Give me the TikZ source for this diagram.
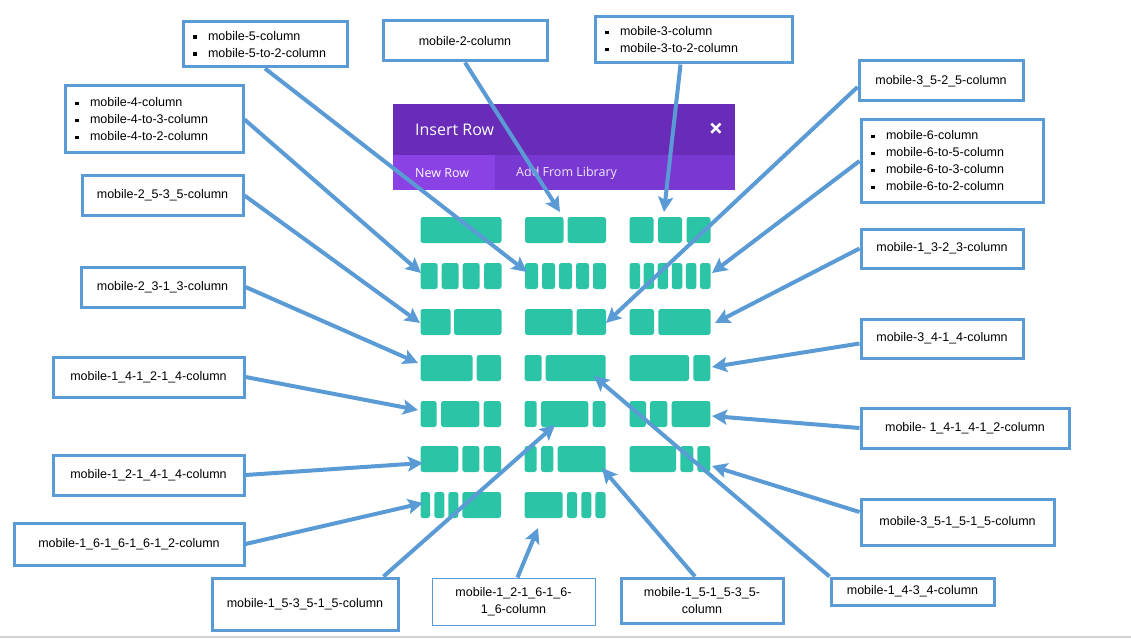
\documentclass[tikz,border=0pt]{standalone}
\usepackage{fontspec}
\setmainfont{Liberation Sans}
\newfontfamily\uifont{Open Sans}
\usetikzlibrary{arrows.meta,calc,positioning}
\definecolor{callout}{RGB}{91,155,213}
\definecolor{tile}{RGB}{43,196,167}
\definecolor{headpurple}{RGB}{104,44,184}
\definecolor{tabpurple}{RGB}{122,56,210}
\definecolor{tabactive}{RGB}{138,66,228}
\newcommand{\sqb}{\makebox[15pt][l]{\rule[1.8pt]{3.5pt}{3.5pt}}}
\tikzset{label box/.style={rectangle,draw=callout,line width=3pt,fill=white,inner sep=0pt,align=center,
                           font=\fontsize{12.5}{17}\selectfont},
         list box/.style={label box,align=left,inner xsep=10pt},
         thin box/.style={label box,line width=1pt},
         pointer/.style={->,draw=callout,line width=4pt},
         brick/.style={fill=tile,rounded corners=2.5pt},
         ui text/.style={inner sep=0pt,text=white,font=\uifont\fontsize{12.5}{15}\selectfont},
}

\begin{document}
\begin{tikzpicture}[x=1pt,y=-1pt,>={Stealth[length=15pt,width=15pt,inset=3pt]}]
\useasboundingbox (0,0) rectangle (1131,639);
% panel
\fill[headpurple] (393,104) rectangle (735,155);
\fill[tabpurple] (393,155) rectangle (735,190);
\fill[tabactive] (393,155) rectangle (495,190);
\node[ui text,anchor=west,font=\uifont\fontsize{16}{18}\selectfont] (title) at (415,130) {Insert Row};
\node[ui text,font=\uifont\bfseries\fontsize{25}{25}\selectfont] (close) at (716,130) {×};
\node[ui text,anchor=west] (newrow) at (415,173) {New Row};
\node[ui text,anchor=west,text=white!88!tabpurple] (library) at (516,173) {Add From Library};
% layouts, row by row
\foreach \a/\b in {420.5/501.5, 525/563.5, 567.5/606, 629.5/653.5, 658/682, 686.5/710.5}
    \fill[brick] (\a,217) rectangle (\b,243);
\foreach \a/\b in {420.5/437.7, 441.7/458.7, 462.7/479.7, 484/501.5,
                   525/538, 542/555, 559/572, 576/589, 593/606,
                   629.5/640, 643.6/654.1, 657.7/668.2, 671.8/682.3, 685.9/696.4, 700/710.5}
    \fill[brick] (\a,263) rectangle (\b,289);
\foreach \a/\b in {420.5/450.7, 454/501.5, 525/572.7, 576.7/606, 629.5/654, 658.3/710.5}
    \fill[brick] (\a,309) rectangle (\b,335);
\foreach \a/\b in {420.5/472.7, 476.7/501, 524.5/541.7, 545.7/605.7, 629.5/689, 693.3/710.3}
    \fill[brick] (\a,355) rectangle (\b,381);
\foreach \a/\b in {420.5/436.7, 441/479.3, 483.7/501, 524.5/536.7, 541/588.3, 592.7/605.5,
                   629.5/646, 650/667.3, 671.7/710.3}
    \fill[brick] (\a,401) rectangle (\b,427);
\foreach \a/\b in {420.5/458.3, 462.3/479.3, 483.7/501, 524.5/536.7, 541/553.3, 557.7/605.7,
                   629.5/676, 680.3/693.3, 697.3/710.3}
    \fill[brick] (\a,446) rectangle (\b,472);
\foreach \a/\b in {420.5/430, 434.3/444.3, 448.3/458.3, 462.3/501,
                   524.5/562.7, 567/577, 581.3/591.3, 595.3/605.5}
    \fill[brick] (\a,492) rectangle (\b,518);
% class names
\node[list box,text width=144pt,minimum height=45pt] (m5) at (265,44.5)
    {\sqb mobile-5-column\\ \sqb mobile-5-to-2-column};
\node[label box,minimum width=164pt,minimum height=40pt] (m2) at (465,41) {mobile-2-column};
\node[list box,text width=177pt,minimum height=46pt] (m3) at (693.5,40)
    {\sqb mobile-3-column\\ \sqb mobile-3-to-2-column};
\node[list box,text width=158pt,minimum height=67pt] (m4) at (154,119.5)
    {\sqb mobile-4-column\\ \sqb mobile-4-to-3-column\\ \sqb mobile-4-to-2-column};
\node[label box,minimum width=161pt,minimum height=39pt] (m2535) at (162.5,195.5) {mobile-2\_5-3\_5-column};
\node[label box,minimum width=163pt,minimum height=40pt] (m2313) at (162.5,287) {mobile-2\_3-1\_3-column};
\node[label box,minimum width=191pt,minimum height=40pt] (m141214) at (148.5,377) {mobile-1\_4-1\_2-1\_4-column};
\node[label box,minimum width=191pt,minimum height=40pt] (m121414) at (148.5,475) {mobile-1\_2-1\_4-1\_4-column};
\node[label box,minimum width=230pt,minimum height=42pt] (m16161612) at (129,544) {mobile-1\_6-1\_6-1\_6-1\_2-column};
\node[label box,minimum width=186pt,minimum height=52pt] (m153515) at (305,604) {mobile-1\_5-3\_5-1\_5-column};
\node[thin box,minimum width=163pt,minimum height=47pt] (m121616) at (513.5,601.5) {mobile-1\_2-1\_6-1\_6-\\1\_6-column};
\node[label box,minimum width=162pt,minimum height=45pt] (m151535) at (702,600.5) {mobile-1\_5-1\_5-3\_5-\\column};
\node[label box,minimum width=163pt,minimum height=27pt] (m1434) at (912.5,591.5) {mobile-1\_4-3\_4-column};
\node[label box,minimum width=193pt,minimum height=46pt] (m351515) at (957.5,522) {mobile-3\_5-1\_5-1\_5-column};
\node[label box,minimum width=208pt,minimum height=40pt] (m141412) at (965,428) {mobile- 1\_4-1\_4-1\_2-column};
\node[label box,minimum width=162pt,minimum height=39pt] (m3414) at (942,338.5) {mobile-3\_4-1\_4-column};
\node[label box,minimum width=162pt,minimum height=39pt] (m1323) at (942,248.5) {mobile-1\_3-2\_3-column};
\node[list box,text width=162pt,minimum height=82pt] (m6) at (952,161)
    {\sqb mobile-6-column\\ \sqb mobile-6-to-5-column\\ \sqb mobile-6-to-3-column\\ \sqb mobile-6-to-2-column};
\node[label box,minimum width=164pt,minimum height=40pt] (m3525) at (941,81) {mobile-3\_5-2\_5-column};
% where the arrows point
\coordinate (t5) at (527,272);
\coordinate (t2) at (560,212);
\coordinate (t3) at (664,212);
\coordinate (t4) at (421,273);
\coordinate (t2535) at (420,323);
\coordinate (t2313) at (418,363);
\coordinate (t141214) at (418,410);
\coordinate (t121414) at (423,463);
\coordinate (t16161612) at (423,503);
\coordinate (t153515) at (555,425);
\coordinate (t121616) at (538,528);
\coordinate (t151535) at (602,468);
\coordinate (t1434) at (594,376);
\coordinate (t351515) at (712,466);
\coordinate (t141412) at (712,416);
\coordinate (t3414) at (712,367);
\coordinate (t1323) at (715,323);
\coordinate (t6) at (712,273);
\coordinate (t3525) at (606,323);
\draw[pointer] (m5.south) -- (t5);
\draw[pointer] (m2.south) -- (t2);
\draw[pointer] ($(m3.south)+(-13,0)$) -- (t3);
\draw[pointer] (m4.east) -- (t4);
\draw[pointer] (m2535.east) -- (t2535);
\draw[pointer] (m2313.east) -- (t2313);
\draw[pointer] (m141214.east) -- (t141214);
\draw[pointer] (m121414.east) -- (t121414);
\draw[pointer] (m16161612.east) -- (t16161612);
\draw[pointer] ($(m153515.north east)+(-16,0)$) -- (t153515);
\draw[pointer] ($(m121616.north)+(4,0)$) -- (t121616);
\draw[pointer] ($(m151535.north)+(-7,0)$) -- (t151535);
\draw[pointer] (m1434.north west) -- (t1434);
\draw[pointer] ($(m351515.west)+(0,-10)$) -- (t351515);
\draw[pointer] (m141412.west) -- (t141412);
\draw[pointer] ($(m3414.west)+(0,5)$) -- (t3414);
\draw[pointer] (m1323.west) -- (t1323);
\draw[pointer] (m6.west) -- (t6);
\draw[pointer] ($(m3525.west)+(0,6)$) -- (t3525);
\draw[black!18,line width=1.5pt] (0,637) -- (1131,637);
\end{tikzpicture}
\end{document}
